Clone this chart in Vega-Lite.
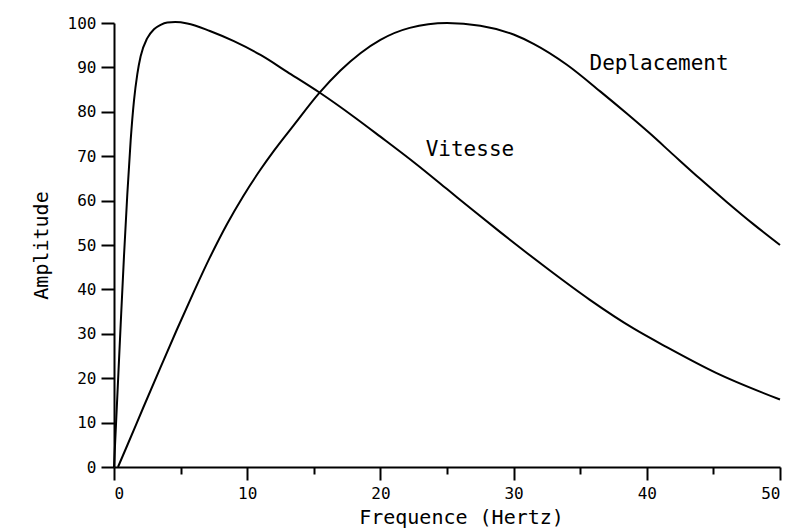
{
  "$schema": "https://vega.github.io/schema/vega-lite/v6.json",
  "width": 666,
  "height": 444,
  "autosize": "none",
  "padding": {"left": 114, "top": 23, "right": 12, "bottom": 62},
  "background": "white",
  "config": {
    "view": {"stroke": null},
    "font": "DejaVu Sans Mono",
    "axis": {
      "domainColor": "black",
      "domainWidth": 2,
      "tickColor": "black",
      "tickWidth": 2,
      "labelColor": "black",
      "labelFont": "DejaVu Sans Mono",
      "labelFontSize": 16,
      "titleFont": "DejaVu Sans Mono",
      "titleFontSize": 20,
      "titleFontWeight": "normal",
      "titleColor": "black",
      "grid": false
    }
  },
  "datasets": {
    "curves": [
      {"f": 0, "v": 0, "s": "Vitesse"},
      {"f": 0.25, "v": 16, "s": "Vitesse"},
      {"f": 0.5, "v": 32, "s": "Vitesse"},
      {"f": 0.75, "v": 47.5, "s": "Vitesse"},
      {"f": 1.0, "v": 61.5, "s": "Vitesse"},
      {"f": 1.25, "v": 73.5, "s": "Vitesse"},
      {"f": 1.5, "v": 82.5, "s": "Vitesse"},
      {"f": 1.75, "v": 88.5, "s": "Vitesse"},
      {"f": 2.0, "v": 92.5, "s": "Vitesse"},
      {"f": 2.5, "v": 96.6, "s": "Vitesse"},
      {"f": 3.0, "v": 98.6, "s": "Vitesse"},
      {"f": 3.5, "v": 99.6, "s": "Vitesse"},
      {"f": 4.0, "v": 100.1, "s": "Vitesse"},
      {"f": 4.6, "v": 100.2, "s": "Vitesse"},
      {"f": 5.5, "v": 99.9, "s": "Vitesse"},
      {"f": 7.2, "v": 98.2, "s": "Vitesse"},
      {"f": 9, "v": 95.9, "s": "Vitesse"},
      {"f": 11, "v": 92.8, "s": "Vitesse"},
      {"f": 13, "v": 89.0, "s": "Vitesse"},
      {"f": 15.4, "v": 84.4, "s": "Vitesse"},
      {"f": 18, "v": 78.9, "s": "Vitesse"},
      {"f": 20, "v": 74.4, "s": "Vitesse"},
      {"f": 22.7, "v": 68.2, "s": "Vitesse"},
      {"f": 25, "v": 62.6, "s": "Vitesse"},
      {"f": 27, "v": 57.7, "s": "Vitesse"},
      {"f": 29, "v": 52.9, "s": "Vitesse"},
      {"f": 31, "v": 48.2, "s": "Vitesse"},
      {"f": 32.7, "v": 44.3, "s": "Vitesse"},
      {"f": 35.7, "v": 37.7, "s": "Vitesse"},
      {"f": 39, "v": 31.2, "s": "Vitesse"},
      {"f": 41.5, "v": 27.0, "s": "Vitesse"},
      {"f": 45.2, "v": 21.2, "s": "Vitesse"},
      {"f": 50, "v": 15.2, "s": "Vitesse"},
      {"f": 0.3, "v": 0, "s": "Deplacement"},
      {"f": 1, "v": 4.9, "s": "Deplacement"},
      {"f": 2.2, "v": 13.4, "s": "Deplacement"},
      {"f": 3.5, "v": 22.5, "s": "Deplacement"},
      {"f": 4.7, "v": 30.8, "s": "Deplacement"},
      {"f": 6, "v": 39.5, "s": "Deplacement"},
      {"f": 7.2, "v": 47.2, "s": "Deplacement"},
      {"f": 8.5, "v": 54.8, "s": "Deplacement"},
      {"f": 9.7, "v": 61, "s": "Deplacement"},
      {"f": 11, "v": 67, "s": "Deplacement"},
      {"f": 12, "v": 71.2, "s": "Deplacement"},
      {"f": 13.5, "v": 77, "s": "Deplacement"},
      {"f": 15.4, "v": 84.2, "s": "Deplacement"},
      {"f": 17, "v": 89.3, "s": "Deplacement"},
      {"f": 18.5, "v": 93.2, "s": "Deplacement"},
      {"f": 20, "v": 96.2, "s": "Deplacement"},
      {"f": 22.2, "v": 98.9, "s": "Deplacement"},
      {"f": 25, "v": 100, "s": "Deplacement"},
      {"f": 27.5, "v": 99.4, "s": "Deplacement"},
      {"f": 30, "v": 97.4, "s": "Deplacement"},
      {"f": 31.5, "v": 95.3, "s": "Deplacement"},
      {"f": 34, "v": 90.6, "s": "Deplacement"},
      {"f": 36.5, "v": 84.6, "s": "Deplacement"},
      {"f": 38.5, "v": 79.6, "s": "Deplacement"},
      {"f": 40.2, "v": 75.2, "s": "Deplacement"},
      {"f": 42, "v": 70.3, "s": "Deplacement"},
      {"f": 44, "v": 64.9, "s": "Deplacement"},
      {"f": 46, "v": 59.7, "s": "Deplacement"},
      {"f": 48, "v": 54.7, "s": "Deplacement"},
      {"f": 50, "v": 50, "s": "Deplacement"}
    ],
    "labels": [
      {"f": 23.4, "v": 71.5, "label": "Vitesse"},
      {"f": 35.7, "v": 90.8, "label": "Deplacement"}
    ]
  },
  "layer": [
    {
      "data": {"name": "curves"},
      "mark": {"type": "line", "color": "black", "strokeWidth": 2, "interpolate": "monotone", "clip": false},
      "encoding": {
        "x": {
          "field": "f", "type": "quantitative",
          "scale": {"domain": [0, 50], "nice": false, "zero": false},
          "axis": {
            "title": "Frequence (Hertz)",
            "values": [0, 5, 10, 15, 20, 25, 30, 35, 40, 45, 50],
            "labelExpr": "datum.value % 10 === 0 ? datum.label : ''",
            "tickSize": {"condition": {"test": "datum.value % 10 !== 0", "value": 7}, "value": 13},
            "labelPadding": 5,
            "titlePadding": 6,
            "titleX": 347
          }
        },
        "y": {
          "field": "v", "type": "quantitative",
          "scale": {"domain": [0, 100], "nice": false},
          "axis": {
            "title": "Amplitude",
            "values": [0, 10, 20, 30, 40, 50, 60, 70, 80, 90, 100],
            "tickSize": 13,
            "labelPadding": 5,
            "titlePadding": 16
          }
        },
        "detail": {"field": "s", "type": "nominal"}
      }
    },
    {
      "data": {"name": "labels"},
      "mark": {"type": "text", "align": "left", "baseline": "middle", "fontSize": 21, "font": "DejaVu Sans Mono", "color": "black"},
      "encoding": {
        "x": {"field": "f", "type": "quantitative"},
        "y": {"field": "v", "type": "quantitative"},
        "text": {"field": "label"}
      }
    }
  ]
}
